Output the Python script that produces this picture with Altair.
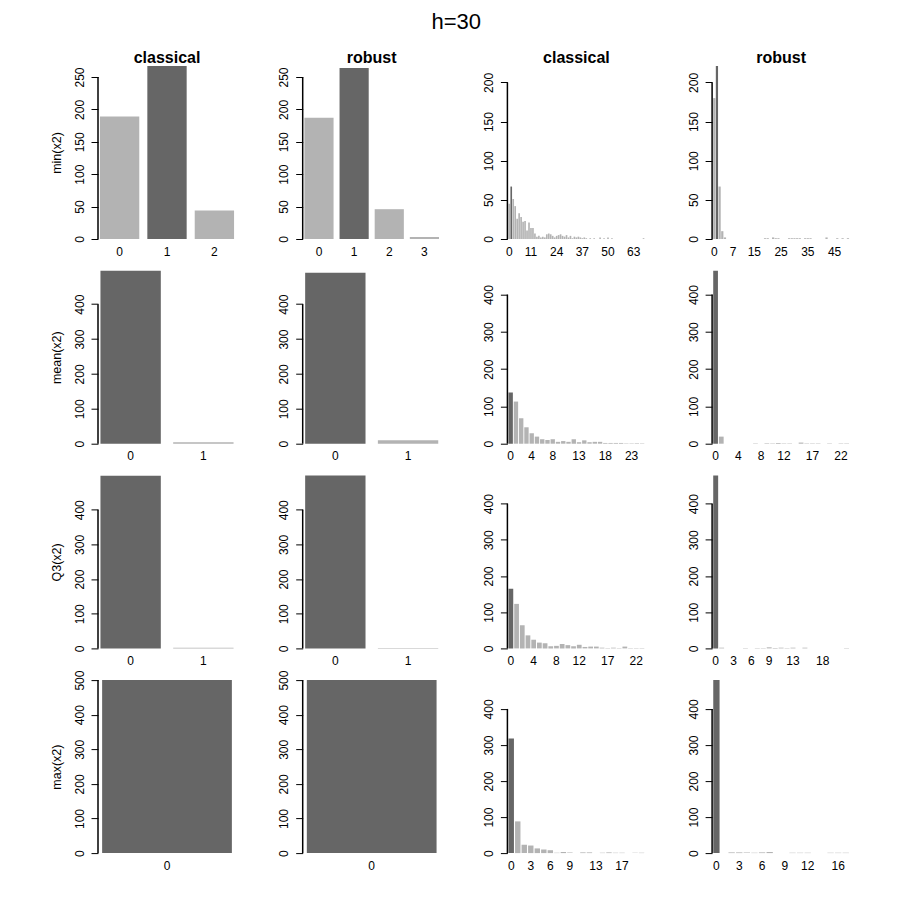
import altair as alt
import pandas as pd

# ---------------- data ----------------
stats = ["min(x2)", "mean(x2)", "Q3(x2)", "max(x2)"]
methods = ["classical", "robust", "classical", "robust"]
highlight_value = [1, 0, 0, 0]          # dark bar per row

# columns 1-2: counts per value 0..k
min_cls_vals = [189, 267, 44]
min_rob_vals = [187, 264, 46, 3]
mean_cls_vals = [496, 4]
mean_rob_vals = [490, 10]
q3_cls_vals = [498, 2]
q3_rob_vals = [499, 1]
max_cls_vals = [500]
max_rob_vals = [500]

# columns 3-4: counts per value 0..n
min_cls_hist = [45, 67, 51, 42, 26, 33, 28, 22, 23, 11, 21, 14, 14, 7, 3, 4, 2, 3, 2, 6,
                7, 6, 4, 2, 4, 5, 6, 4, 3, 5, 2, 4, 1, 3, 2, 3, 2, 1, 2, 1,
                0, 1, 0, 1, 0, 0, 2, 0, 1, 0, 2, 0, 1, 0, 0, 0, 0, 0, 0, 0,
                0, 0, 0, 0, 0, 0, 0, 0, 1]
min_rob_hist = [180, 221, 67, 10, 2, 0, 0, 0, 0, 0, 0, 0, 0, 0, 0, 0, 0, 0, 0, 1,
                1, 0, 2, 1, 1, 0, 0, 0, 1, 1, 1, 1, 1, 0, 1, 1, 1, 0, 0, 0,
                0, 0, 2, 0, 0, 0, 1, 0, 1, 0, 1]
mean_cls_hist = [137, 113, 68, 44, 28, 19, 12, 10, 12, 5, 7, 5, 12, 4, 9, 4, 5, 5, 2, 2,
                 2, 2, 1, 1, 1, 1]
mean_rob_hist = [464, 19, 0, 0, 0, 0, 0, 1, 0, 1, 1, 2, 1, 1, 0, 3, 1, 1, 1, 0,
                 1, 0, 1, 1]
q3_cls_hist = [165, 123, 64, 36, 24, 16, 14, 6, 7, 12, 9, 6, 10, 4, 5, 5, 2, 1, 2, 1,
               5, 1, 1, 1]
q3_rob_hist = [478, 2, 0, 0, 0, 1, 0, 1, 1, 3, 1, 2, 1, 2, 0, 2, 0, 0, 0, 0,
               0, 0, 1]
max_cls_hist = [318, 88, 23, 21, 13, 10, 8, 1, 3, 2, 0, 2, 2, 0, 1, 2, 1, 1, 0, 1, 1]
max_rob_hist = [480, 0, 2, 2, 2, 1, 2, 3, 0, 0, 1, 1, 1, 0, 0, 1, 1, 1]

# x tick labels shown on histogram panels
min_cls_labels = [0, 11, 24, 37, 50, 63]
min_rob_labels = [0, 7, 15, 25, 35, 45]
mean_cls_labels = [0, 4, 8, 13, 18, 23]
mean_rob_labels = [0, 4, 8, 12, 17, 22]
q3_cls_labels = [0, 4, 8, 12, 17, 22]
q3_rob_labels = [0, 3, 6, 9, 13, 18]
max_cls_labels = [0, 3, 6, 9, 13, 17]
max_rob_labels = [0, 3, 6, 9, 12, 16]

# y tick values
left_ticks = [[0, 50, 100, 150, 200, 250], [0, 100, 200, 300, 400],
              [0, 100, 200, 300, 400], [0, 100, 200, 300, 400, 500]]
right_ticks = [[0, 50, 100, 150, 200], [0, 100, 200, 300, 400],
               [0, 100, 200, 300, 400], [0, 100, 200, 300, 400]]

rows_data = [
    (min_cls_vals, min_rob_vals, min_cls_hist, min_rob_hist, min_cls_labels, min_rob_labels),
    (mean_cls_vals, mean_rob_vals, mean_cls_hist, mean_rob_hist, mean_cls_labels, mean_rob_labels),
    (q3_cls_vals, q3_rob_vals, q3_cls_hist, q3_rob_hist, q3_cls_labels, q3_rob_labels),
    (max_cls_vals, max_rob_vals, max_cls_hist, max_rob_hist, max_cls_labels, max_rob_labels),
]

# ---------------- styling ----------------
W, H = 136, 173
LIGHT, DARK = "#b3b3b3", "#666666"
FONT = "Liberation Sans"


def panel(counts, ymax, yticks, hl, xlabels=None, ytitle=None, coltitle=None):
    cats = [str(i) for i in range(len(counts))]
    df = pd.DataFrame({
        "cat": cats,
        "n": counts,
        "hl": ["dark" if i == hl else "light" for i in range(len(counts))],
    })
    xaxis_kw = dict(title=None, ticks=False, domain=False, labelAngle=0, labelPadding=7,
                    labelFontSize=12, labelColor="black", labelOverlap=False, labelFont=FONT)
    if xlabels is not None:
        xaxis_kw["values"] = [str(v) for v in xlabels]
    yaxis_kw = dict(values=yticks, domain=False, tickSize=7, tickColor="black", tickWidth=1,
                    offset=1, labelAngle=-90, labelAlign="center", labelBaseline="alphabetic",
                    labelPadding=8, labelFontSize=12, labelColor="black", labelFont=FONT,
                    grid=False, labelOverlap=False, labelFlush=False)
    if ytitle is not None:
        yaxis_kw.update(title=ytitle, titleFontSize=12.5, titleFontWeight="normal",
                        titleColor="black", titleFont=FONT, titleAngle=-90,
                        titleX=-37.5, titleY=H / 2, titleAlign="center",
                        titleBaseline="alphabetic")
    else:
        yaxis_kw["title"] = None
    yaxis = alt.Axis(**yaxis_kw)

    bars = alt.Chart(df).mark_bar(strokeWidth=0).encode(
        x=alt.X("cat:N", sort=cats,
                scale=alt.Scale(paddingInner=0.17, paddingOuter=0.02),
                axis=alt.Axis(**xaxis_kw)),
        y=alt.Y("n:Q", scale=alt.Scale(domain=[0, ymax], nice=False, zero=True), axis=yaxis),
        color=alt.Color("hl:N", scale=alt.Scale(domain=["light", "dark"], range=[LIGHT, DARK]),
                        legend=None),
    )
    rule = alt.Chart(df).mark_rule(color="black", strokeWidth=1.5).encode(
        x=alt.value(-1),
        y=alt.YDatum(yticks[0], axis=yaxis),
        y2=alt.datum(yticks[-1]),
    ).transform_filter(alt.datum.cat == "0")
    props = dict(width=W, height=H)
    if coltitle is not None:
        props["title"] = alt.TitleParams(coltitle, fontSize=16, fontWeight="bold", font=FONT,
                                         color="black", anchor="middle", frame="group",
                                         offset=-13, baseline="alphabetic")
    return alt.layer(bars, rule).properties(**props)


panels = []
for r, (c1, c2, c3, c4, l3, l4) in enumerate(rows_data):
    hl = highlight_value[r]
    ymax_left = max(max(c1), max(c2))
    ymax_right = max(max(c3), max(c4))
    ct = (lambda k: methods[k]) if r == 0 else (lambda k: None)
    panels.append(panel(c1, ymax_left, left_ticks[r], hl, ytitle=stats[r], coltitle=ct(0)))
    panels.append(panel(c2, ymax_left, left_ticks[r], hl, coltitle=ct(1)))
    panels.append(panel(c3, ymax_right, right_ticks[r], hl, xlabels=l3, coltitle=ct(2)))
    panels.append(panel(c4, ymax_right, right_ticks[r], hl, xlabels=l4, coltitle=ct(3)))

chart = alt.concat(*panels, columns=4, spacing={"row": 31.7, "column": 68.7},
                   bounds="flush").properties(
    title=alt.TitleParams("h=30", fontSize=22, fontWeight="normal", font=FONT,
                          color="black", anchor="middle", offset=16, dx=6.5),
    padding={"left": 42, "top": 3, "right": 5, "bottom": 5},
).configure(background="white").configure_view(stroke=None)

chart.save("out.html", embed_options={"renderer": "svg", "actions": False})
